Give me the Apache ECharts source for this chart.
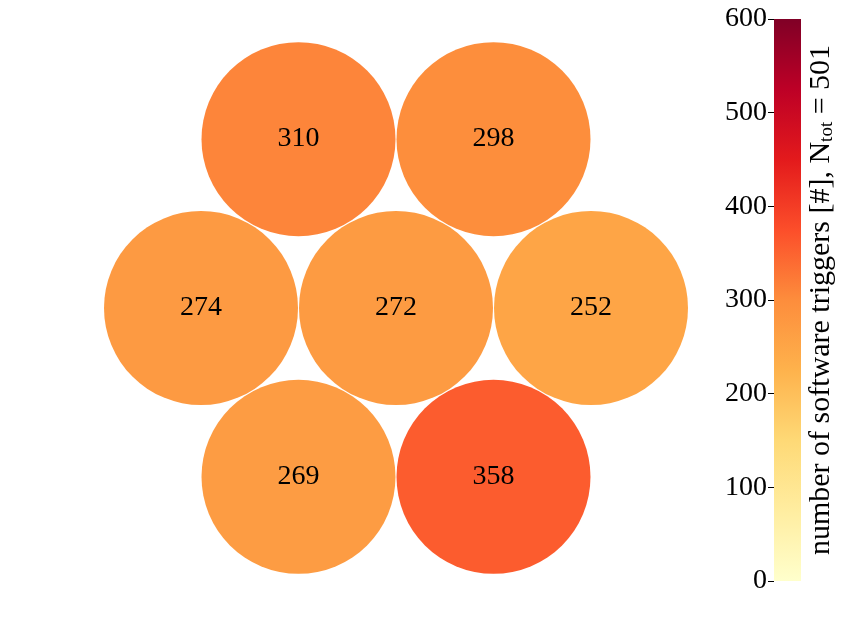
<!DOCTYPE html>
<html>
<head>
<meta charset="utf-8">
<style>
  html, body { margin: 0; padding: 0; background: #fff; }
  #main { width: 847px; height: 622px; }
</style>
</head>
<body>
<div id="main"></div>
<script src="https://cdn.jsdelivr.net/npm/echarts@6/dist/echarts.min.js"></script>
<script type="text/javascript">
    // hex layout: column offset (half-steps) and row (top = 1)
    var hexCol = [-1, 1, -2, 0, 2, -1, 1];
    var hexRow = [1, 1, 0, 0, 0, -1, -1];
    var triggers = [310, 298, 274, 272, 252, 269, 358];
    var cbTicks = [0, 100, 200, 300, 400, 500, 600];
    var nTot = 501;

    // YlOrRd
    var ylOrRd = ['#ffffcc', '#ffeda0', '#fed976', '#feb24c', '#fd8d3c',
                  '#fc4e2a', '#e31a1c', '#bd0026', '#800026'];

    var font = 'Liberation Serif';
    var cbMax = cbTicks[cbTicks.length - 1];
    var points = triggers.map(function (v, i) {
        return [hexCol[i] / 2, hexRow[i] * Math.sqrt(3) / 2, v];
    });

    // colorbar gradient, bottom (0) to top (max)
    var cbGradient = new echarts.graphic.LinearGradient(0, 1, 0, 0,
        ylOrRd.map(function (c, i) { return { offset: i / (ylOrRd.length - 1), color: c }; }));

    var myChart = echarts.init(document.getElementById('main'));
    var option = {
        backgroundColor: '#fff',
        animation: false,
        textStyle: { fontFamily: font },
        grid: [
            { left: 6, top: 15.5, width: 780, height: 585 },
            { left: 774, top: 19, width: 27, height: 562 }
        ],
        xAxis: [
            { gridIndex: 0, type: 'value', min: -2, max: 2, show: false },
            { gridIndex: 1, type: 'category', data: ['cb'], show: false }
        ],
        yAxis: [
            { gridIndex: 0, type: 'value', min: -1.5, max: 1.5, show: false },
            {
                gridIndex: 1, type: 'value', position: 'left',
                min: cbTicks[0], max: cbMax, interval: 100,
                axisLine: { show: false },
                splitLine: { show: false },
                axisTick: { show: true, length: 6, lineStyle: { color: '#000', width: 1 } },
                axisLabel: { color: '#000', fontSize: 28, fontFamily: font, margin: 7 }
            },
            {
                gridIndex: 1, type: 'value', position: 'right',
                min: cbTicks[0], max: cbMax,
                axisLine: { show: false }, axisTick: { show: false },
                axisLabel: { show: false }, splitLine: { show: false },
                name: 'number of software triggers [#], N{sub|tot} = ' + nTot,
                nameLocation: 'middle',
                nameRotate: 90,
                nameGap: 5,
                nameTextStyle: {
                    color: '#000', fontSize: 30, fontFamily: font,
                    rich: { sub: { fontSize: 19, fontFamily: font, color: '#000', verticalAlign: 'bottom', padding: [12, 0, 0, 0] } }
                }
            }
        ],
        visualMap: {
            show: false,
            type: 'continuous',
            min: cbTicks[0], max: cbMax,
            seriesIndex: 0, dimension: 2,
            inRange: { color: ylOrRd }
        },
        series: [{
            type: 'scatter',
            xAxisIndex: 0, yAxisIndex: 0,
            symbol: 'circle',
            symbolSize: 194,
            data: points,
            itemStyle: { opacity: 1 },
            label: {
                show: true, position: 'inside',
                color: '#000', fontSize: 28, fontFamily: font,
                formatter: function (p) { return p.value[2]; }
            },
            emphasis: { disabled: true }
        }, {
            type: 'bar',
            xAxisIndex: 1, yAxisIndex: 1,
            data: [cbMax],
            barWidth: '100%',
            itemStyle: { color: cbGradient, borderRadius: 0 },
            silent: true
        }]
    };
    myChart.setOption(option);
</script>
</body>
</html>
